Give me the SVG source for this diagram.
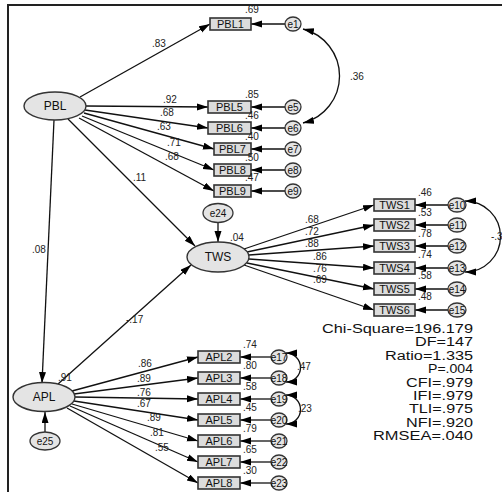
<svg xmlns="http://www.w3.org/2000/svg" width="502" height="492" viewBox="0 0 502 492">
<style>
.box{fill:#dcdcdc;stroke:#333;stroke-width:1.6}
.lat{fill:#e4e4e4;stroke:#333;stroke-width:1.4}
.err{fill:#e4e4e4;stroke:#333;stroke-width:1.3}
.ln{stroke:#111;stroke-width:1.3;fill:none;marker-end:url(#ah)}
.arc{stroke:#111;stroke-width:1.3;fill:none;marker-end:url(#ah);marker-start:url(#ahs)}
.t{font-family:"Liberation Sans",Arial,sans-serif;fill:#111;text-anchor:middle}
.bt{font-size:11px}
.lt{font-size:12px}
.et{font-size:10px}
.lb{font-family:"Liberation Sans",Arial,sans-serif;font-size:10px;fill:#222}
.st{font-family:"Liberation Sans",Arial,sans-serif;font-size:12.5px;fill:#111;text-anchor:end}
</style>
<defs>
<marker id="ah" markerUnits="userSpaceOnUse" markerWidth="12" markerHeight="8" refX="11" refY="3.5" orient="auto"><path d="M0,0 L11,3.5 L0,7 z" fill="#000"/></marker>
<marker id="ahs" markerUnits="userSpaceOnUse" markerWidth="12" markerHeight="8" refX="11" refY="3.5" orient="auto-start-reverse"><path d="M0,0 L11,3.5 L0,7 z" fill="#000"/></marker>
</defs>
<rect width="502" height="492" fill="#fff"/>
<path d="M8,492 V5 H502" fill="none" stroke="#222" stroke-width="2"/>

<g id="connectors">
<line class="ln" x1="80" y1="97" x2="210" y2="24"/>
<line class="ln" x1="86" y1="106" x2="208" y2="107"/>
<line class="ln" x1="85" y1="110" x2="208" y2="128"/>
<line class="ln" x1="84" y1="113" x2="214" y2="149"/>
<line class="ln" x1="82" y1="116" x2="214" y2="170"/>
<line class="ln" x1="79" y1="118" x2="214" y2="191"/>
<line class="ln" x1="68" y1="119" x2="195" y2="246"/>
<line class="ln" x1="54" y1="120" x2="42" y2="383"/>
<line class="ln" x1="285" y1="24" x2="251" y2="24"/>
<line class="ln" x1="285" y1="107" x2="251" y2="107"/>
<line class="ln" x1="285" y1="128" x2="251" y2="128"/>
<line class="ln" x1="285" y1="149" x2="251" y2="149"/>
<line class="ln" x1="285" y1="170" x2="251" y2="170"/>
<line class="ln" x1="285" y1="191" x2="251" y2="191"/>
<path class="arc" d="M303,29 A48.5 48.5 0 0 1 303,123"/>
<line class="ln" x1="218" y1="222" x2="218" y2="242"/>
<line class="ln" x1="244" y1="249" x2="374" y2="205"/>
<line class="ln" x1="247" y1="252" x2="374" y2="225"/>
<line class="ln" x1="249" y1="255" x2="374" y2="246"/>
<line class="ln" x1="249" y1="259" x2="374" y2="268"/>
<line class="ln" x1="247" y1="263" x2="374" y2="289"/>
<line class="ln" x1="244" y1="265" x2="374" y2="310"/>
<line class="ln" x1="448" y1="205" x2="415" y2="205"/>
<line class="ln" x1="448" y1="225" x2="415" y2="225"/>
<line class="ln" x1="448" y1="246" x2="415" y2="246"/>
<line class="ln" x1="448" y1="268" x2="415" y2="268"/>
<line class="ln" x1="448" y1="289" x2="415" y2="289"/>
<line class="ln" x1="448" y1="310" x2="415" y2="310"/>
<path class="arc" d="M465,201 A35.5 35.5 0 0 1 465,272"/>
<line class="ln" x1="58" y1="384" x2="191" y2="265"/>
<line class="ln" x1="45" y1="432" x2="45" y2="412"/>
<line class="ln" x1="72" y1="391" x2="198" y2="357"/>
<line class="ln" x1="74" y1="394" x2="198" y2="378"/>
<line class="ln" x1="75" y1="397" x2="198" y2="399"/>
<line class="ln" x1="74" y1="401" x2="198" y2="420"/>
<line class="ln" x1="72" y1="404" x2="198" y2="441"/>
<line class="ln" x1="70" y1="406" x2="198" y2="462"/>
<line class="ln" x1="67" y1="408" x2="198" y2="483"/>
<line class="ln" x1="271" y1="357" x2="240" y2="357"/>
<line class="ln" x1="271" y1="378" x2="240" y2="378"/>
<line class="ln" x1="271" y1="399" x2="240" y2="399"/>
<line class="ln" x1="271" y1="420" x2="240" y2="420"/>
<line class="ln" x1="271" y1="441" x2="240" y2="441"/>
<line class="ln" x1="271" y1="462" x2="240" y2="462"/>
<line class="ln" x1="271" y1="483" x2="240" y2="483"/>
<path class="arc" d="M286,353 A14.5 14.5 0 0 1 286,382"/>
<path class="arc" d="M286,395 A14.5 14.5 0 0 1 286,424"/>
</g>

<g id="PBL"><ellipse class="lat" cx="55" cy="106" rx="31" ry="14"/><text class="t lt" x="55" y="110">PBL</text></g>
<g id="TWS"><ellipse class="lat" cx="218" cy="257" rx="31" ry="15"/><text class="t lt" x="218" y="261">TWS</text></g>
<g id="APL"><ellipse class="lat" cx="44" cy="397" rx="31" ry="14.5"/><text class="t lt" x="44" y="401">APL</text></g>

<g id="PBL1"><rect class="box" x="210" y="18" width="41" height="12"/><text class="t bt" x="230.5" y="28">PBL1</text></g>
<g id="PBL5"><rect class="box" x="208" y="101" width="43" height="12"/><text class="t bt" x="229.5" y="111">PBL5</text></g>
<g id="PBL6"><rect class="box" x="208" y="122" width="43" height="12"/><text class="t bt" x="229.5" y="132">PBL6</text></g>
<g id="PBL7"><rect class="box" x="214" y="143" width="37" height="12"/><text class="t bt" x="232.5" y="153">PBL7</text></g>
<g id="PBL8"><rect class="box" x="214" y="164" width="37" height="12"/><text class="t bt" x="232.5" y="174">PBL8</text></g>
<g id="PBL9"><rect class="box" x="214" y="185" width="37" height="12"/><text class="t bt" x="232.5" y="195">PBL9</text></g>

<g id="e1"><ellipse class="err" cx="293" cy="24" rx="8" ry="7"/><text class="t et" x="293" y="27.5">e1</text></g>
<g id="e5"><ellipse class="err" cx="293" cy="107" rx="8" ry="7"/><text class="t et" x="293" y="110.5">e5</text></g>
<g id="e6"><ellipse class="err" cx="293" cy="128" rx="8" ry="7"/><text class="t et" x="293" y="131.5">e6</text></g>
<g id="e7"><ellipse class="err" cx="293" cy="149" rx="8" ry="7"/><text class="t et" x="293" y="152.5">e7</text></g>
<g id="e8"><ellipse class="err" cx="293" cy="170" rx="8" ry="7"/><text class="t et" x="293" y="173.5">e8</text></g>
<g id="e9"><ellipse class="err" cx="293" cy="191" rx="8" ry="7"/><text class="t et" x="293" y="194.5">e9</text></g>
<g id="e24"><ellipse class="err" cx="218" cy="213" rx="15" ry="9.5"/><text class="t et" x="218" y="216.5">e24</text></g>

<g id="TWS1"><rect class="box" x="374" y="199" width="41" height="12"/><text class="t bt" x="394.5" y="209">TWS1</text></g>
<g id="TWS2"><rect class="box" x="374" y="219" width="41" height="12"/><text class="t bt" x="394.5" y="229">TWS2</text></g>
<g id="TWS3"><rect class="box" x="374" y="240" width="41" height="12"/><text class="t bt" x="394.5" y="250">TWS3</text></g>
<g id="TWS4"><rect class="box" x="374" y="262" width="41" height="12"/><text class="t bt" x="394.5" y="272">TWS4</text></g>
<g id="TWS5"><rect class="box" x="374" y="283" width="41" height="12"/><text class="t bt" x="394.5" y="293">TWS5</text></g>
<g id="TWS6"><rect class="box" x="374" y="304" width="41" height="12"/><text class="t bt" x="394.5" y="314">TWS6</text></g>

<g id="e10"><ellipse class="err" cx="457" cy="205" rx="9" ry="7"/><text class="t et" x="457" y="208.5">e10</text></g>
<g id="e11"><ellipse class="err" cx="457" cy="225" rx="9" ry="7"/><text class="t et" x="457" y="228.5">e11</text></g>
<g id="e12"><ellipse class="err" cx="457" cy="246" rx="9" ry="7"/><text class="t et" x="457" y="249.5">e12</text></g>
<g id="e13"><ellipse class="err" cx="457" cy="268" rx="9" ry="7"/><text class="t et" x="457" y="271.5">e13</text></g>
<g id="e14"><ellipse class="err" cx="457" cy="289" rx="9" ry="7"/><text class="t et" x="457" y="292.5">e14</text></g>
<g id="e15"><ellipse class="err" cx="457" cy="310" rx="9" ry="7"/><text class="t et" x="457" y="313.5">e15</text></g>

<g id="APL2"><rect class="box" x="198" y="351" width="42" height="12"/><text class="t bt" x="219" y="361">APL2</text></g>
<g id="APL3"><rect class="box" x="198" y="372" width="42" height="12"/><text class="t bt" x="219" y="382">APL3</text></g>
<g id="APL4"><rect class="box" x="198" y="393" width="42" height="12"/><text class="t bt" x="219" y="403">APL4</text></g>
<g id="APL5"><rect class="box" x="198" y="414" width="42" height="12"/><text class="t bt" x="219" y="424">APL5</text></g>
<g id="APL6"><rect class="box" x="198" y="435" width="42" height="12"/><text class="t bt" x="219" y="445">APL6</text></g>
<g id="APL7"><rect class="box" x="198" y="456" width="42" height="12"/><text class="t bt" x="219" y="466">APL7</text></g>
<g id="APL8"><rect class="box" x="198" y="477" width="42" height="12"/><text class="t bt" x="219" y="487">APL8</text></g>

<g id="e17"><ellipse class="err" cx="279" cy="357" rx="8" ry="7"/><text class="t et" x="279" y="360.5">e17</text></g>
<g id="e18"><ellipse class="err" cx="279" cy="378" rx="8" ry="7"/><text class="t et" x="279" y="381.5">e18</text></g>
<g id="e19"><ellipse class="err" cx="279" cy="399" rx="8" ry="7"/><text class="t et" x="279" y="402.5">e19</text></g>
<g id="e20"><ellipse class="err" cx="279" cy="420" rx="8" ry="7"/><text class="t et" x="279" y="423.5">e20</text></g>
<g id="e21"><ellipse class="err" cx="279" cy="441" rx="8" ry="7"/><text class="t et" x="279" y="444.5">e21</text></g>
<g id="e22"><ellipse class="err" cx="279" cy="462" rx="8" ry="7"/><text class="t et" x="279" y="465.5">e22</text></g>
<g id="e23"><ellipse class="err" cx="279" cy="483" rx="8" ry="7"/><text class="t et" x="279" y="486.5">e23</text></g>
<g id="e25"><ellipse class="err" cx="45" cy="441" rx="15" ry="9"/><text class="t et" x="45" y="444.5">e25</text></g>

<g id="labels">
<text class="lb" x="245" y="13">.69</text>
<text class="lb" x="152" y="47">.83</text>
<text class="lb" x="245" y="98">.85</text>
<text class="lb" x="163" y="103">.92</text>
<text class="lb" x="160" y="116">.68</text>
<text class="lb" x="245" y="119">.46</text>
<text class="lb" x="157" y="130">.63</text>
<text class="lb" x="245" y="140">.40</text>
<text class="lb" x="167" y="146">.71</text>
<text class="lb" x="245" y="161">.50</text>
<text class="lb" x="165" y="160">.68</text>
<text class="lb" x="245" y="181">.47</text>
<text class="lb" x="133" y="181">.11</text>
<text class="lb" x="350" y="80">.36</text>
<text class="lb" x="32" y="253">.08</text>
<text class="lb" x="230" y="241">.04</text>
<text class="lb" x="305" y="223">.68</text>
<text class="lb" x="305" y="235">.72</text>
<text class="lb" x="305" y="247">.88</text>
<text class="lb" x="313" y="260">.86</text>
<text class="lb" x="313" y="272">.76</text>
<text class="lb" x="313" y="283">.69</text>
<text class="lb" x="418" y="196">.46</text>
<text class="lb" x="418" y="216">.53</text>
<text class="lb" x="418" y="237">.78</text>
<text class="lb" x="418" y="258">.74</text>
<text class="lb" x="418" y="279">.58</text>
<text class="lb" x="418" y="300">.48</text>
<text class="lb" x="491" y="240">-.3</text>
<text class="lb" x="126" y="323">-.17</text>
<text class="lb" x="58" y="381">.91</text>
<text class="lb" x="138" y="367">.86</text>
<text class="lb" x="137" y="382">.89</text>
<text class="lb" x="137" y="396">.76</text>
<text class="lb" x="137" y="407">.67</text>
<text class="lb" x="147" y="421">.89</text>
<text class="lb" x="150" y="436">.81</text>
<text class="lb" x="155" y="451">.55</text>
<text class="lb" x="243" y="348">.74</text>
<text class="lb" x="243" y="369">.80</text>
<text class="lb" x="243" y="390">.58</text>
<text class="lb" x="243" y="411">.45</text>
<text class="lb" x="243" y="432">.79</text>
<text class="lb" x="243" y="453">.65</text>
<text class="lb" x="243" y="474">.30</text>
<text class="lb" x="297" y="370">.47</text>
<text class="lb" x="298" y="412">.23</text>
</g>

<g id="fit">
<text class="st" x="473" y="333" textLength="151" lengthAdjust="spacingAndGlyphs">Chi-Square=196.179</text>
<text class="st" x="473" y="346.4" textLength="58" lengthAdjust="spacingAndGlyphs">DF=147</text>
<text class="st" x="473" y="359.8" textLength="88" lengthAdjust="spacingAndGlyphs">Ratio=1.335</text>
<text class="st" x="473" y="373.1" textLength="45" lengthAdjust="spacingAndGlyphs">P=.004</text>
<text class="st" x="473" y="386.5" textLength="67" lengthAdjust="spacingAndGlyphs">CFI=.979</text>
<text class="st" x="473" y="399.9" textLength="60" lengthAdjust="spacingAndGlyphs">IFI=.979</text>
<text class="st" x="473" y="413.3" textLength="64" lengthAdjust="spacingAndGlyphs">TLI=.975</text>
<text class="st" x="473" y="426.6" textLength="67" lengthAdjust="spacingAndGlyphs">NFI=.920</text>
<text class="st" x="473" y="440" textLength="100" lengthAdjust="spacingAndGlyphs">RMSEA=.040</text>
</g>
</svg>
